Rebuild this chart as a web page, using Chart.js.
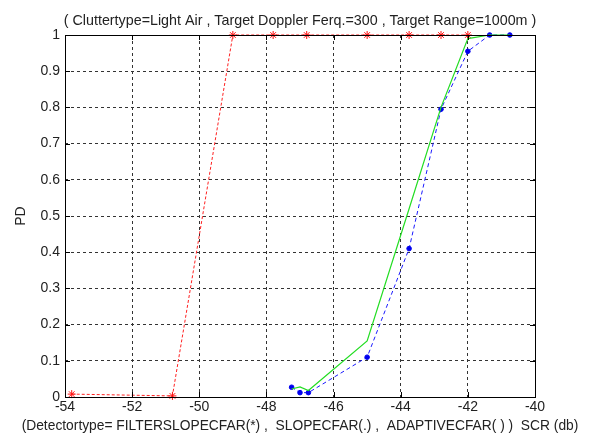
<!DOCTYPE html>
<html>
<head>
<meta charset="utf-8">
<script src="https://cdn.jsdelivr.net/npm/chart.js@4/dist/chart.umd.min.js"></script>
<style>
  html, body { margin: 0; padding: 0; background: #fff; }
  #wrap { width: 593px; height: 437px; }
</style>
</head>
<body>
<div id="wrap"><canvas id="pd" width="593" height="437"></canvas></div>
<script>
// Detection probability versus signal-to-clutter ratio for three CFAR detectors
const xTickValues = [-54, -52, -50, -48, -46, -44, -42, -40];
const yTickValues = [0, 0.1, 0.2, 0.3, 0.4, 0.5, 0.6, 0.7, 0.8, 0.9, 1];

// FILTERSLOPECFAR (*)
const filterSlopeScr = [-53.8, -50.8, -49.0, -47.8, -46.8, -45.0, -43.75, -42.8, -42.0];
const filterSlopePd  = [0.008, 0.003, 1, 1, 1, 1, 1, 1, 1];

// SLOPECFAR (.)
const slopeScr = [-47.25, -47.0, -46.75, -45.0, -43.75, -42.8, -42.0, -41.35, -40.75];
const slopePd  = [0.027, 0.012, 0.012, 0.11, 0.41, 0.795, 0.955, 1, 1];

// ADAPTIVECFAR ( )
const adaptiveScr = [-47.25, -47.0, -46.75, -45.0, -43.75, -42.8, -42.0, -41.35, -40.75];
const adaptivePd  = [0.022, 0.028, 0.018, 0.155, 0.52, 0.80, 0.99, 1, 1];

const titleText = '( Cluttertype=Light Air , Target Doppler Ferq.=300 , Target Range=1000m )';
const xTitleText = '(Detectortype= FILTERSLOPECFAR(*) ,  SLOPECFAR(.) ,  ADAPTIVECFAR( ) )  SCR (db)';
const yTitleText = 'PD';

const pairs = (xs, ys) => xs.map((x, i) => ({ x: x, y: ys[i] }));

const textColor = '#222';
const fontFamily = '"Liberation Sans", Arial, sans-serif';

// Solid axes box with short inward tick marks on all four sides
const axesBox = {
  id: 'axesBox',
  afterDraw(chart) {
    const { ctx, chartArea: a, scales } = chart;
    const len = 5;
    ctx.save();
    ctx.setLineDash([]);
    ctx.strokeStyle = '#000';
    ctx.lineWidth = 1;
    ctx.beginPath();
    scales.x.ticks.forEach(t => {
      const px = Math.round(scales.x.getPixelForValue(t.value)) + 0.5;
      ctx.moveTo(px, a.bottom); ctx.lineTo(px, a.bottom - len);
      ctx.moveTo(px, a.top); ctx.lineTo(px, a.top + len);
    });
    scales.y.ticks.forEach(t => {
      const py = Math.round(scales.y.getPixelForValue(t.value)) + 0.5;
      ctx.moveTo(a.left, py); ctx.lineTo(a.left + len, py);
      ctx.moveTo(a.right, py); ctx.lineTo(a.right - len, py);
    });
    ctx.stroke();
    ctx.strokeRect(Math.round(a.left) + 0.5, Math.round(a.top) + 0.5,
                   Math.round(a.right - a.left), Math.round(a.bottom - a.top));
    ctx.restore();
  }
};

// Heading above the axes and the x-axis caption below, centred on the plot
// (drawn at natural width, so long captions may run past the plot edges)
const captions = {
  id: 'captions',
  afterDraw(chart) {
    const { ctx, chartArea: a } = chart;
    const cx = (a.left + a.right) / 2;
    ctx.save();
    ctx.fillStyle = textColor;
    ctx.textAlign = 'center';
    ctx.textBaseline = 'middle';
    ctx.font = '14.3px ' + fontFamily;
    ctx.fillText(titleText, cx, a.top - 14);
    ctx.font = '13.8px ' + fontFamily;
    ctx.fillText(xTitleText, cx, a.bottom + 29);
    ctx.restore();
  }
};

new Chart(document.getElementById('pd'), {
  type: 'scatter',
  data: {
    datasets: [
      {
        label: 'ADAPTIVECFAR',
        data: pairs(adaptiveScr, adaptivePd),
        showLine: true,
        borderColor: '#22dd22',
        borderWidth: 1.2,
        pointRadius: 0,
        tension: 0,
        clip: false
      },
      {
        label: 'SLOPECFAR',
        data: pairs(slopeScr, slopePd),
        showLine: true,
        borderColor: '#1a1aff',
        borderWidth: 1,
        borderDash: [4, 3],
        pointStyle: 'circle',
        pointRadius: 2.3,
        pointBackgroundColor: '#0000ee',
        pointBorderColor: '#0000ee',
        tension: 0,
        clip: false
      },
      {
        label: 'FILTERSLOPECFAR',
        data: pairs(filterSlopeScr, filterSlopePd),
        showLine: true,
        borderColor: '#ff2020',
        borderWidth: 1,
        borderDash: [3, 2],
        pointStyle: 'star',
        pointRadius: 4,
        pointBorderWidth: 1,
        pointBorderColor: '#ff1010',
        pointBackgroundColor: '#ff1010',
        tension: 0,
        clip: false
      }
    ]
  },
  options: {
    responsive: false,
    animation: false,
    events: [],
    layout: { padding: { left: 0, right: 58, top: 35, bottom: 0 } },
    plugins: {
      legend: { display: false },
      tooltip: { enabled: false },
      title: { display: false }
    },
    scales: {
      x: {
        type: 'linear',
        min: -54,
        max: -40,
        afterBuildTicks: s => { s.ticks = xTickValues.map(v => ({ value: v })); },
        afterFit: s => { s.height = 40; },
        ticks: {
          color: textColor,
          font: { family: fontFamily, size: 14 },
          padding: 2,
          maxRotation: 0,
          callback: v => String(v)
        },
        grid: { color: '#333', lineWidth: 1, drawTicks: false },
        border: { display: false, dash: [3, 3] },
        title: { display: false }
      },
      y: {
        type: 'linear',
        min: 0,
        max: 1,
        afterBuildTicks: s => { s.ticks = yTickValues.map(v => ({ value: v })); },
        afterFit: s => { s.width = 65; },
        ticks: {
          color: textColor,
          font: { family: fontFamily, size: 14 },
          padding: 5,
          callback: v => String(v)
        },
        grid: { color: '#333', lineWidth: 1, drawTicks: false },
        border: { display: false, dash: [3, 3] },
        title: {
          display: true,
          text: yTitleText,
          color: textColor,
          font: { family: fontFamily, size: 14 },
          padding: { top: 13, bottom: 0 }
        }
      }
    }
  },
  plugins: [axesBox, captions]
});
</script>
</body>
</html>
